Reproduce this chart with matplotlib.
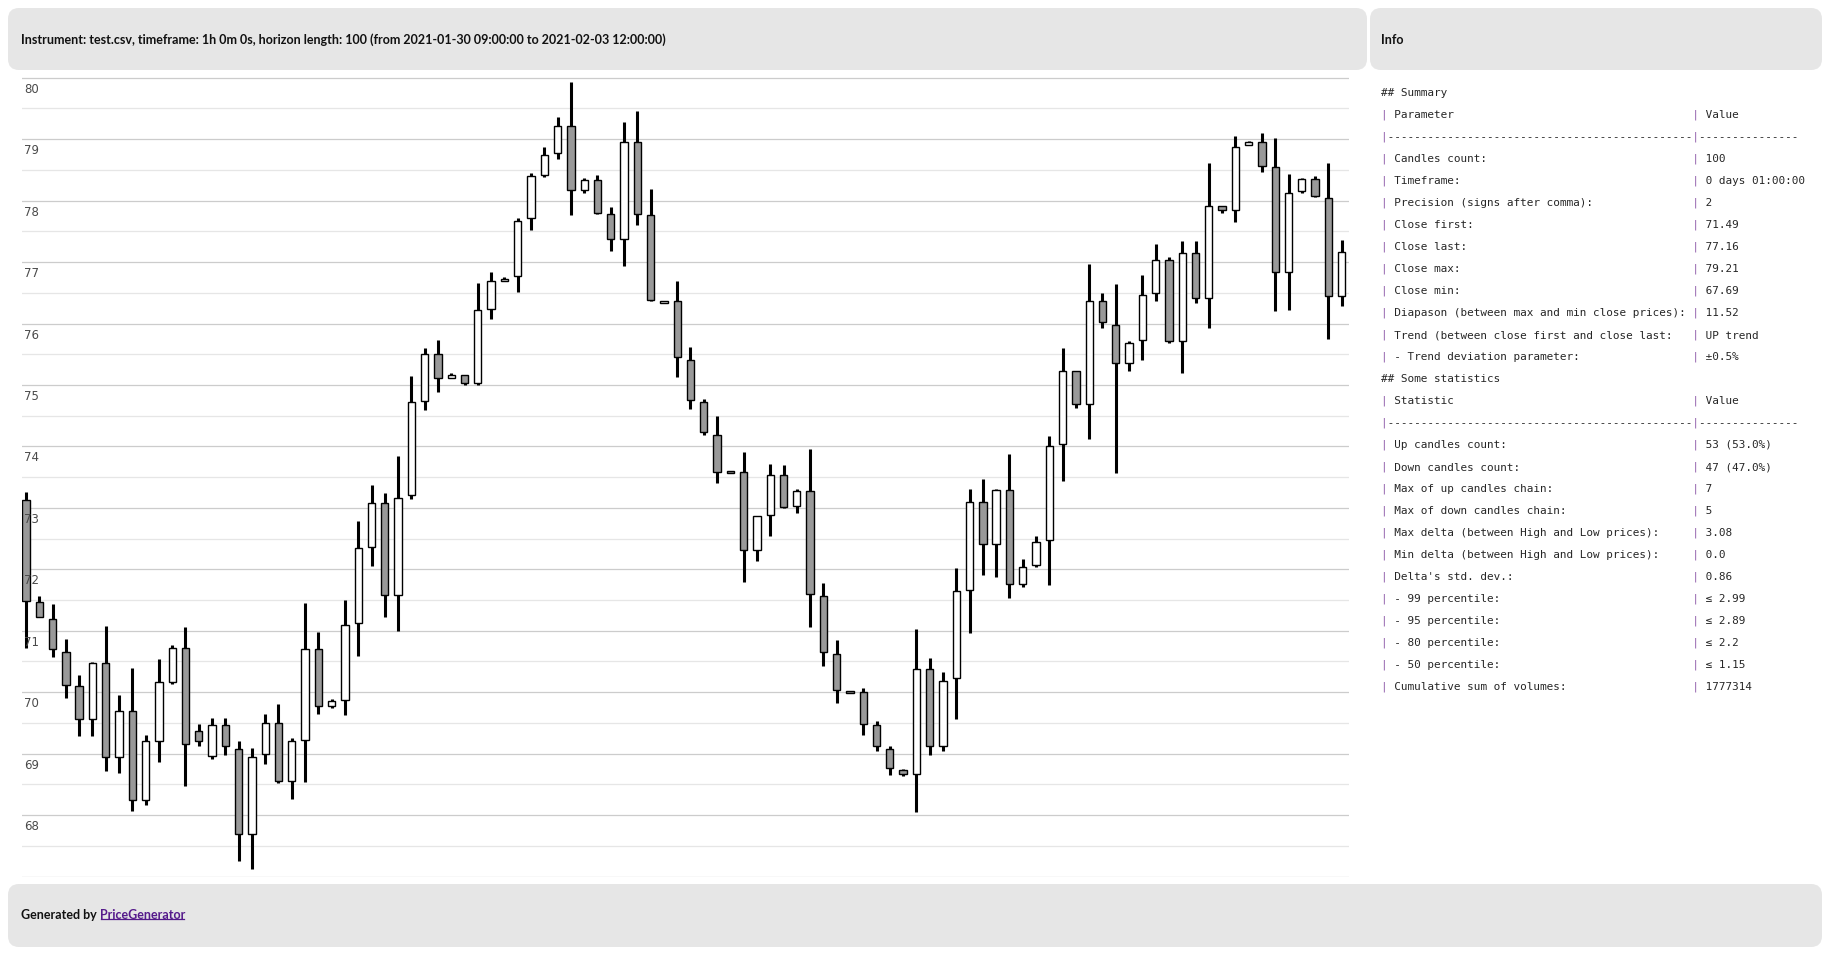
import matplotlib
matplotlib.use("Agg")
import matplotlib.pyplot as plt
import matplotlib.transforms as mtransforms
from matplotlib.patches import FancyBboxPatch
import numpy as np

# ---- OHLC series (100 hourly candles) ----
opens = [73.12, 71.47, 71.19, 70.66, 70.10, 69.56, 70.48, 68.95, 69.69, 68.24,
         69.20, 70.16, 70.72, 69.37, 68.97, 69.46, 69.08, 67.70, 68.99, 69.50,
         68.56, 69.23, 70.71, 69.78, 69.88, 71.12, 72.37, 73.08, 71.59, 73.21,
         74.74, 75.51, 75.11, 75.16, 75.04, 76.24, 76.70, 76.77, 77.71, 78.42,
         78.77, 79.21, 78.18, 78.34, 77.78, 77.37, 78.96, 77.76, 76.34, 76.36,
         75.41, 74.73, 74.19, 73.58, 73.59, 72.32, 72.89, 73.54, 73.03, 73.28,
         71.57, 70.63, 70.00, 70.01, 69.46, 69.08, 68.73, 68.67, 70.37, 69.12,
         70.23, 71.67, 73.10, 72.41, 73.29, 71.76, 72.07, 72.48, 74.04, 75.22,
         74.69, 76.36, 75.98, 75.36, 75.73, 76.50, 77.04, 75.72, 77.14, 76.41,
         77.92, 77.84, 78.90, 78.95, 78.54, 76.84, 78.15, 78.35, 78.05, 76.44]
highs = [73.26, 71.56, 71.44, 70.86, 70.28, 70.49, 71.07, 69.95, 70.39, 69.31,
         70.54, 70.77, 71.06, 69.48, 69.58, 69.58, 69.20, 69.10, 69.64, 69.81,
         69.26, 71.46, 70.98, 69.89, 71.50, 72.78, 73.37, 73.24, 73.84, 75.14,
         75.60, 75.73, 75.19, 75.16, 76.66, 76.84, 76.76, 77.71, 78.45, 78.88,
         79.36, 79.93, 78.36, 78.41, 77.90, 79.28, 79.46, 78.19, 76.37, 76.70,
         75.61, 74.77, 74.49, 73.58, 73.91, 72.86, 73.71, 73.69, 73.30, 73.95,
         71.78, 70.85, 70.00, 70.07, 69.53, 69.12, 68.75, 71.03, 70.56, 70.33,
         72.02, 73.30, 73.47, 73.30, 73.88, 72.17, 72.54, 74.17, 75.60, 75.22,
         76.97, 76.50, 76.64, 75.71, 76.79, 77.30, 77.09, 77.34, 77.34, 78.61,
         77.92, 79.05, 78.97, 79.10, 79.02, 78.43, 78.37, 78.40, 78.61, 77.36]
lows = [70.72, 71.23, 70.58, 69.91, 69.29, 69.28, 68.71, 68.69, 68.06, 68.17,
        68.87, 70.14, 68.47, 69.12, 68.91, 68.98, 67.26, 67.12, 68.84, 68.52,
        68.26, 68.54, 69.65, 69.75, 69.63, 70.59, 72.06, 71.22, 71.00, 73.14,
        74.60, 74.89, 75.11, 75.00, 75.00, 76.08, 76.70, 76.52, 77.52, 78.38,
        78.68, 77.76, 78.12, 77.78, 77.18, 76.94, 77.61, 76.37, 76.34, 75.13,
        74.61, 74.18, 73.40, 73.58, 71.79, 72.14, 72.55, 73.00, 72.91, 71.06,
        70.43, 69.83, 70.00, 69.30, 69.04, 68.65, 68.63, 68.05, 68.98, 69.04,
        69.56, 70.97, 71.91, 71.87, 71.53, 71.72, 72.03, 71.75, 73.43, 74.63,
        74.12, 75.92, 73.56, 75.23, 75.41, 76.37, 75.69, 75.20, 76.33, 75.92,
        77.80, 77.65, 78.90, 78.47, 76.21, 76.22, 78.13, 78.06, 75.74, 76.28]
closes = [71.49, 71.23, 70.70, 70.12, 69.56, 70.48, 68.95, 69.69, 68.24, 69.20,
          70.16, 70.72, 69.16, 69.21, 69.46, 69.13, 67.69, 68.95, 69.50, 68.56,
          69.20, 70.71, 69.78, 69.85, 71.09, 72.34, 73.08, 71.59, 73.16, 74.73,
          75.51, 75.11, 75.16, 75.04, 76.22, 76.69, 76.73, 77.67, 78.40, 78.74,
          79.21, 78.18, 78.34, 77.80, 77.37, 78.96, 77.79, 76.39, 76.37, 75.45,
          74.76, 74.23, 73.59, 73.58, 72.32, 72.86, 73.54, 73.02, 73.28, 71.60,
          70.66, 70.04, 70.00, 69.49, 69.12, 68.76, 68.67, 70.37, 69.12, 70.19,
          71.64, 73.10, 72.41, 73.29, 71.76, 72.03, 72.45, 74.00, 75.22, 74.69,
          76.36, 76.02, 75.36, 75.69, 76.47, 77.04, 75.72, 77.14, 76.41, 77.92,
          77.84, 78.88, 78.95, 78.57, 76.84, 78.12, 78.35, 78.08, 76.44, 77.16]

price_labels = list(range(68, 81))

title_text = ("Instrument: test.csv, timeframe: 1h 0m 0s, horizon length: 100 "
              "(from 2021-01-30 09:00:00 to 2021-02-03 12:00:00)")

summary_rows = [
    ("Candles count:", "100"),
    ("Timeframe:", "0 days 01:00:00"),
    ("Precision (signs after comma):", "2"),
    ("Close first:", "71.49"),
    ("Close last:", "77.16"),
    ("Close max:", "79.21"),
    ("Close min:", "67.69"),
    ("Diapason (between max and min close prices):", "11.52"),
    ("Trend (between close first and close last:", "UP trend"),
    ("- Trend deviation parameter:", "\u00b10.5%"),
]
stats_rows = [
    ("Up candles count:", "53 (53.0%)"),
    ("Down candles count:", "47 (47.0%)"),
    ("Max of up candles chain:", "7"),
    ("Max of down candles chain:", "5"),
    ("Max delta (between High and Low prices):", "3.08"),
    ("Min delta (between High and Low prices):", "0.0"),
    ("Delta's std. dev.:", "0.86"),
    ("- 99 percentile:", "\u2264 2.99"),
    ("- 95 percentile:", "\u2264 2.89"),
    ("- 80 percentile:", "\u2264 2.2"),
    ("- 50 percentile:", "\u2264 1.15"),
    ("Cumulative sum of volumes:", "1777314"),
]

# ---- figure in pixel units ----
W, H = 1828, 957
fig = plt.figure(figsize=(W / 100, H / 100), dpi=100)
fig.patch.set_facecolor("white")

bg = fig.add_axes([0, 0, 1, 1])
bg.set_xlim(0, W)
bg.set_ylim(H, 0)
bg.axis("off")
bg.set_zorder(0)

PANEL = "#e6e6e6"


def panel(x0, y0, x1, y1, r=11):
    bg.add_patch(FancyBboxPatch((x0 + r, y0 + r), x1 - x0 - 2 * r, y1 - y0 - 2 * r,
                                boxstyle=f"round,pad={r}", fc=PANEL, ec="none"))


panel(8, 8, 1367, 70)
panel(1370, 8, 1822, 70)
panel(8, 884, 1822, 947)

head_font = dict(family="Lato", fontweight="bold", fontsize=9.0, color="#111111")
bg.text(21, 40, title_text, va="center", ha="left", **head_font)
bg.text(1381, 40, "Info", va="center", ha="left", **head_font)

t_gen = bg.text(21, 915, "Generated by", va="center", ha="left", **head_font)
t_link = bg.annotate("PriceGenerator", xy=(1, 0), xycoords=t_gen, xytext=(2.2, 0),
                     textcoords="offset points", va="bottom", ha="left",
                     family="Lato", fontweight="bold", fontsize=9.0, color="#551a8b")

# ---- info panel (markdown-like table in monospace) ----
mono = dict(family="DejaVu Sans Mono", fontsize=7.9, va="center", ha="left")
TEXT_C = "#262626"
PIPE_C = "#8a55a6"


def row(name, value):
    return "| " + name.ljust(45) + "| " + value


info_lines = ["## Summary", row("Parameter", "Value"), "|" + "-" * 46 + "|" + "-" * 15]
info_lines += [row(n, v) for n, v in summary_rows]
info_lines += ["## Some statistics", row("Statistic", "Value"), "|" + "-" * 46 + "|" + "-" * 15]
info_lines += [row(n, v) for n, v in stats_rows]

ix, iy, dy = 1381, 93, 22
for k, line in enumerate(info_lines):
    y = iy + k * dy
    plain = line.replace("|", " ")
    pipes = "".join(ch if ch == "|" else " " for ch in line)
    bg.text(ix, y, plain, color=TEXT_C, **mono)
    if "|" in line:
        bg.text(ix, y, pipes, color=PIPE_C, **mono)

# ---- candlestick chart ----
ax = fig.add_axes([22 / W, 1 - 877 / H, (1349 - 22) / W, (877 - 72) / H])
ax.set_zorder(1)
ax.patch.set_alpha(0)
for s in ax.spines.values():
    s.set_visible(False)

o = np.array(opens)
h = np.array(highs)
l = np.array(lows)
c = np.array(closes)
x = np.arange(len(o))

ax.set_xlim(-0.3, 99.55)
ax.set_ylim(66.993, 80.093)
ax.set_xticks([])
ax.set_yticks(np.arange(67, 81, 1.0))
ax.set_yticks(np.arange(67.5, 80, 1.0), minor=True)
ax.tick_params(which="both", length=0, labelleft=False, labelbottom=False)
ax.grid(True, which="major", axis="y", color="#cccccc", lw=0.9)
ax.grid(True, which="minor", axis="y", color="#e6e6e6", lw=0.9)
ax.set_axisbelow(True)

up = c > o
min_h = 0.035
body_lo = np.minimum(o, c)
body_h = np.abs(c - o)
small = body_h < min_h
body_lo = np.where(small, body_lo - (min_h - body_h) / 2, body_lo)
body_h = np.where(small, min_h, body_h)

ax.vlines(x, l, h, color="black", lw=2.2, zorder=2)
ax.bar(x, body_h, bottom=body_lo, width=0.55,
       color=np.where(up, "white", "#999999"), edgecolor="black",
       linewidth=1.0, zorder=3)

lab_tr = mtransforms.offset_copy(ax.get_yaxis_transform(), fig=fig, x=2, y=-5, units="dots")
for v in price_labels:
    ax.text(0, v, str(v), transform=lab_tr, ha="left", va="top",
            fontsize=8.5, family="DejaVu Sans", color="#4a4a4a", zorder=4)

# underline for the link text
fig.canvas.draw()
bb = t_link.get_window_extent()
inv = bg.transData.inverted()
(lx0, ly0), (lx1, _) = inv.transform([(bb.x0, bb.y0), (bb.x1, bb.y1)])
bg.plot([lx0 + 1, lx1 - 1], [ly0 - 2, ly0 - 2], color="#551a8b", lw=0.9)

fig.savefig("out.png", dpi=100)
